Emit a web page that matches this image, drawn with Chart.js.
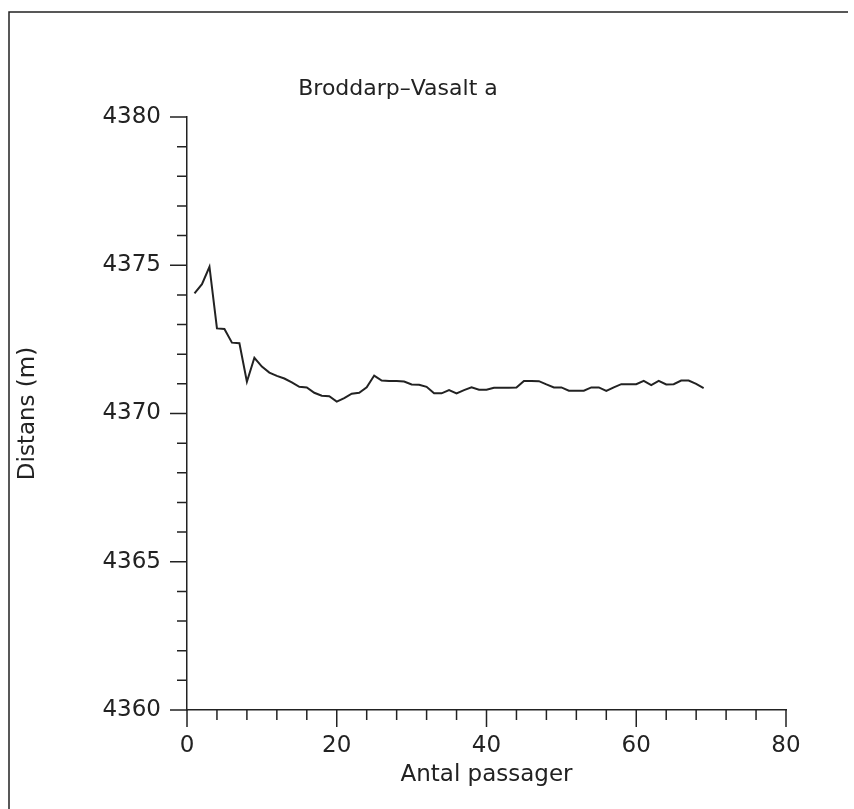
<!DOCTYPE html>
<html>
<head>
<meta charset="utf-8">
<script src="https://cdn.jsdelivr.net/npm/chart.js@4/dist/chart.umd.min.js"></script>
<style>
  html, body { margin: 0; padding: 0; background: #fff; }
  #wrap { width: 854px; height: 809px; position: relative; }
</style>
</head>
<body>
<div id="wrap"><canvas id="chart"></canvas></div>
<script>
// passage number and measured distance (m)
const passages = [
    1, 2, 3, 4, 5, 6, 7, 8, 9, 10,
    11, 12, 13, 14, 15, 16, 17, 18, 19, 20,
    21, 22, 23, 24, 25, 26, 27, 28, 29, 30,
    31, 32, 33, 34, 35, 36, 37, 38, 39, 40,
    41, 42, 43, 44, 45, 46, 47, 48, 49, 50,
    51, 52, 53, 54, 55, 56, 57, 58, 59, 60,
    61, 62, 63, 64, 65, 66, 67, 68, 69
];
const distances = [
    4374.05, 4374.36, 4374.95, 4372.87, 4372.85, 4372.39, 4372.37, 4371.07, 4371.88, 4371.58,
    4371.38, 4371.27, 4371.18, 4371.05, 4370.90, 4370.88, 4370.70, 4370.60, 4370.58, 4370.40,
    4370.52, 4370.67, 4370.70, 4370.88, 4371.28, 4371.11, 4371.10, 4371.10, 4371.08, 4370.98,
    4370.97, 4370.90, 4370.68, 4370.68, 4370.79, 4370.68, 4370.79, 4370.88, 4370.80, 4370.80,
    4370.87, 4370.87, 4370.87, 4370.88, 4371.10, 4371.10, 4371.09, 4370.98, 4370.88, 4370.88,
    4370.77, 4370.77, 4370.77, 4370.88, 4370.88, 4370.76, 4370.88, 4370.99, 4370.99, 4370.99,
    4371.10, 4370.96, 4371.10, 4370.98, 4370.99, 4371.11, 4371.11, 4371.00, 4370.86
];
const xTickLabels = [0, 20, 40, 60, 80];
const yTickLabels = [4360, 4365, 4370, 4375, 4380];

const ink = '#222';
const fontFamily = '"DejaVu Sans", sans-serif';

// ticks drawn by hand so major and minor can have different lengths
const tickPlugin = {
    id: 'plotterTicks',
    beforeDraw(chart) {
        const ctx = chart.ctx;
        ctx.save();
        ctx.strokeStyle = ink;
        ctx.lineWidth = 1.5;
        // page frame
        ctx.beginPath();
        ctx.moveTo(9, chart.height);
        ctx.lineTo(9, 12);
        ctx.lineTo(848, 12);
        ctx.stroke();
        ctx.restore();
    },
    afterDraw(chart) {
        const ctx = chart.ctx;
        const xs = chart.scales.x, ys = chart.scales.y;
        const area = chart.chartArea;
        ctx.save();
        ctx.strokeStyle = ink;
        ctx.lineWidth = 1.5;
        ctx.beginPath();
        xs.ticks.forEach(t => {
            const px = xs.getPixelForValue(t.value);
            const len = xTickLabels.includes(t.value) ? 17 : 10;
            ctx.moveTo(px, area.bottom);
            ctx.lineTo(px, area.bottom + len);
        });
        ys.ticks.forEach(t => {
            const py = ys.getPixelForValue(t.value);
            const len = yTickLabels.includes(t.value) ? 17 : 10;
            ctx.moveTo(area.left, py);
            ctx.lineTo(area.left - len, py);
        });
        ctx.stroke();

        // title
        ctx.fillStyle = ink;
        ctx.font = '22px ' + fontFamily;
        ctx.textAlign = 'center';
        ctx.textBaseline = 'middle';
        ctx.fillText('Broddarp\u2013Vasalt a', 398, 89);
        ctx.restore();
    }
};

new Chart(document.getElementById('chart'), {
    type: 'line',
    data: {
        labels: passages,
        datasets: [{
            data: passages.map((p, i) => ({ x: p, y: distances[i] })),
            borderColor: ink,
            borderWidth: 2,
            pointRadius: 0,
            tension: 0,
            fill: false
        }]
    },
    plugins: [tickPlugin],
    options: {
        responsive: true,
        maintainAspectRatio: false,
        animation: false,
        layout: { padding: { top: 117, right: 68, left: 0, bottom: 0 } },
        plugins: {
            legend: { display: false },
            tooltip: { enabled: false }
        },
        scales: {
            x: {
                type: 'linear',
                min: 0,
                max: 80,
                ticks: {
                    stepSize: 4,
                    autoSkip: false,
                    maxRotation: 0,
                    padding: 22,
                    color: ink,
                    font: { family: fontFamily, size: 23 },
                    callback: v => xTickLabels.includes(v) ? String(v) : ''
                },
                grid: { display: true, drawOnChartArea: false, drawTicks: false },
                border: { display: true, color: ink, width: 1.5 },
                title: {
                    display: true,
                    text: 'Antal passager',
                    color: ink,
                    font: { family: fontFamily, size: 23 },
                    padding: { top: 0, bottom: 20 }
                },
                afterFit: s => { s.height = 99; }
            },
            y: {
                min: 4360,
                max: 4380,
                ticks: {
                    stepSize: 1,
                    autoSkip: false,
                    padding: 26,
                    color: ink,
                    font: { family: fontFamily, size: 23 },
                    callback: v => yTickLabels.includes(v) ? String(v) : ''
                },
                grid: { display: true, drawOnChartArea: false, drawTicks: false },
                border: { display: true, color: ink, width: 1.5 },
                title: {
                    display: true,
                    text: 'Distans (m)',
                    color: ink,
                    font: { family: fontFamily, size: 23 },
                    padding: { top: 14, bottom: 0 }
                },
                afterFit: s => { s.width = 187; }
            }
        }
    }
});
</script>
</body>
</html>
